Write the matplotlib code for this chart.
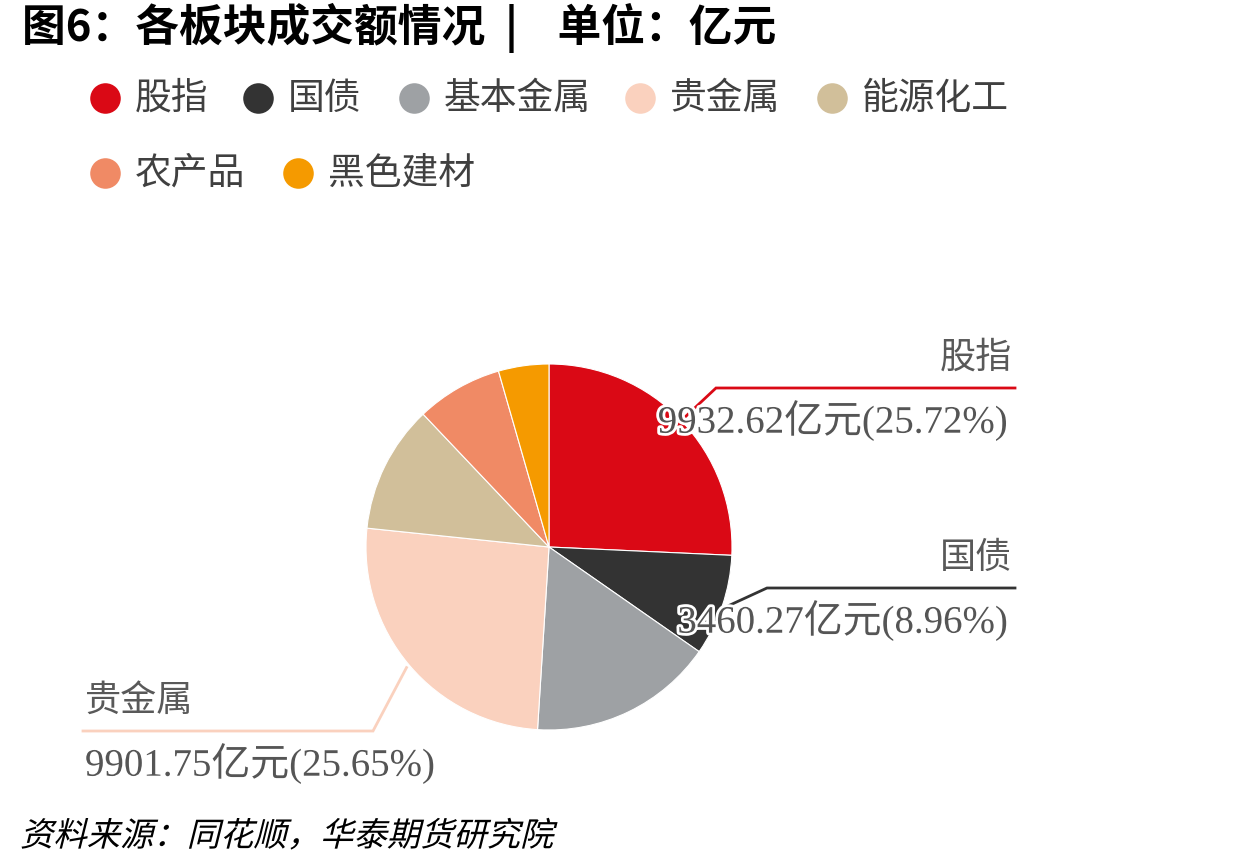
import matplotlib
matplotlib.use("Agg")
import matplotlib.pyplot as plt
import matplotlib.patheffects as pe
from matplotlib.font_manager import FontProperties
from matplotlib.patches import PathPatch
from matplotlib.textpath import TextPath
from matplotlib.transforms import Affine2D
import numpy as np

plt.rcParams["font.family"] = ["Noto Sans CJK SC", "DejaVu Sans"]

# data (亿元); unlabelled sectors
CATEGORIES = ["股指", "国债", "基本金属", "贵金属", "能源化工", "农产品", "黑色建材"]
VALUES = [9932.62, 3460.27, 6298.0, 9901.75, 4357.0, 2943.0, 1718.0]
PERCENTS = [25.72, 8.96, 16.31, 25.65, 11.28, 7.62, 4.45]
COLORS = ["#da0915", "#333333", "#9ea1a4", "#fad1be", "#d1bf9a", "#f08a65", "#f59a00"]

W, H = 1240, 866
CX, CY, R = 549, 547, 183

fig = plt.figure(figsize=(W / 100, H / 100), dpi=100)
ax = fig.add_axes([0, 0, 1, 1])


def Y(y):
    # image rows -> data y (pixels from bottom)
    return H - y


wedges, _ = ax.pie(VALUES, colors=COLORS, startangle=90, counterclock=False,
                   center=(CX, Y(CY)), radius=R,
                   wedgeprops={"edgecolor": "white", "linewidth": 0.8})
ax.set_xlim(0, W)
ax.set_ylim(0, H)
ax.set_aspect("equal")
ax.axis("off")

# title
ax.text(22, Y(28), "图6：各板块成交额情况  |    单位：亿元", fontsize=31.5,
        fontweight="bold", color="black", ha="left", va="center")

# legend, two rows
legend_pos = [(105, 98), (258, 98), (414, 98), (640, 98), (832, 98),
              (105, 173), (298, 173)]
for (lx, ly), name, col in zip(legend_pos, CATEGORIES, COLORS):
    ax.plot(lx, Y(ly), "o", ms=22, color=col, mec="none")
    ax.text(lx + 30, Y(ly), name, fontsize=26.5, color="#404040",
            ha="left", va="center")

# pie labels with leader lines
val_font = ["Liberation Serif", "Noto Sans CJK SC"]
stroke = [pe.withStroke(linewidth=4, foreground="white")]
total = sum(VALUES)
cum = np.cumsum([0] + VALUES)
labelled = {
    # idx: elbow point, line end, text anchor x, alignment
    0: ((716, 388), 1015, 1012, "right"),
    1: ((767, 588), 1015, 1012, "right"),
    3: ((373, 731), 83, 85, "left"),
}
for i, ((ex, ey), end_x, tx, ha) in labelled.items():
    mid = (cum[i] + cum[i + 1]) / 2 / total * 2 * np.pi
    sx = CX + 1.02 * R * np.sin(mid)
    sy = CY - 1.02 * R * np.cos(mid)
    ax.plot([sx, ex, end_x], [Y(sy), Y(ey), Y(ey)], color=COLORS[i], lw=2,
            solid_joinstyle="miter")
    ax.text(tx, Y(ey - 30), CATEGORIES[i], fontsize=26, color="#595959",
            ha=ha, va="center")
    ax.text(tx - 4 if ha == "right" else tx, Y(ey + 33),
            f"{VALUES[i]:.2f}亿元({PERCENTS[i]:.2f}%)", family=val_font,
            fontsize=28, color="#555555", ha=ha, va="center",
            path_effects=stroke)

# source line, slanted
src = TextPath((0, 0), "资料来源：同花顺，华泰期货研究院", size=24,
               prop=FontProperties(family="Noto Sans CJK SC"))
ax.add_patch(PathPatch(src, facecolor="black", edgecolor="none",
                       transform=Affine2D().skew_deg(14, 0).scale(100 / 72)
                       .translate(20, Y(846)) + ax.transData))

fig.savefig("out.png", dpi=100)
